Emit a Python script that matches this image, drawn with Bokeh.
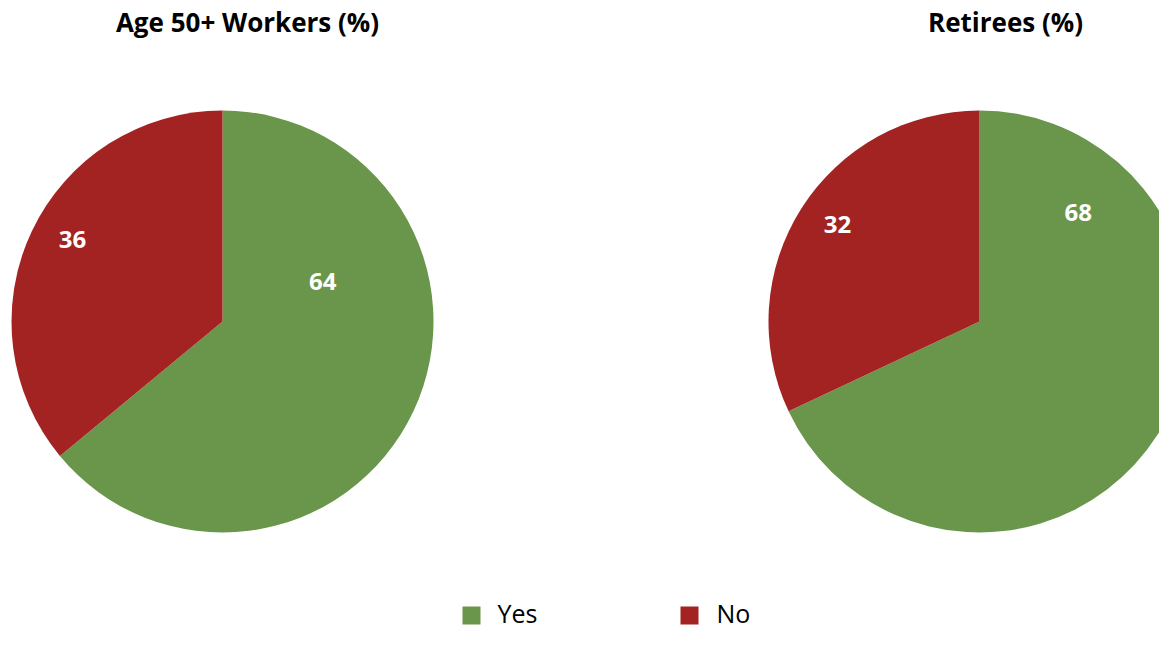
import math
from bokeh.plotting import figure
from bokeh.models import Range1d
from bokeh.core.properties import value
from bokeh.embed import file_html
from bokeh.resources import INLINE

# ---- data ----
pie_titles = ["Age 50+ Workers (%)", "Retirees (%)"]
categories = ["Yes", "No"]
workers = [64, 36]
retirees = [68, 32]
colors = ["#6A964B", "#A32322"]

# ---- layout (pixels from top-left) ----
W, H = 1159, 629
centers = [(222, 321), (979, 321)]
R = 211
# label placement (radius, angle deg) per pie per slice
label_polar = [[(108, 21.8), (171, 151.3)], [(147, 47.8), (172, 145.7)]]
title_x = [247, 1005]

FONT = "Open Sans"

p = figure(width=W, height=H, output_backend="svg", toolbar_location=None,
           x_range=Range1d(0, W), y_range=Range1d(-H, 0),
           min_border=0)
p.axis.visible = False
p.grid.visible = False
p.outline_line_color = None
p.background_fill_color = "white"

for i, vals in enumerate([workers, retirees]):
    cx, cy = centers[i]
    total = sum(vals)
    # Yes goes clockwise from 12 o'clock; No counterclockwise from 12 o'clock
    yes_ang = vals[0] / total * 2 * math.pi
    starts = [math.pi / 2 - yes_ang, math.pi / 2]
    ends = [math.pi / 2, math.pi / 2 + (vals[1] / total) * 2 * math.pi]
    p.wedge(x=[cx, cx], y=[-cy, -cy], radius=R, start_angle=starts, end_angle=ends,
            fill_color=colors, line_color="white", line_width=0)
    lx, ly = [], []
    for (r, a) in label_polar[i]:
        lx.append(cx + r * math.cos(math.radians(a)))
        ly.append(-cy + r * math.sin(math.radians(a)))
    p.text(x=lx, y=ly, text=[str(v) for v in vals], text_color="white",
           text_font=value(FONT), text_font_style="bold", text_font_size="24px",
           text_align="center", text_baseline="middle")
    p.text(x=[title_x[i]], y=[-21], text=[pie_titles[i]], text_color="black",
           text_font=value(FONT), text_font_style="bold", text_font_size="26px",
           text_align="center", text_baseline="middle")

# legend
leg_sq_x = [471, 689]
leg_txt_x = [497, 716]
p.rect(x=leg_sq_x, y=[-615, -615], width=18, height=18, fill_color=colors, line_color=None)
p.text(x=leg_txt_x, y=[-612, -612], text=categories, text_color="black",
       text_font=value(FONT), text_font_size="25px", text_align="left", text_baseline="middle")

open("out.html", "w").write(file_html(p, INLINE))
